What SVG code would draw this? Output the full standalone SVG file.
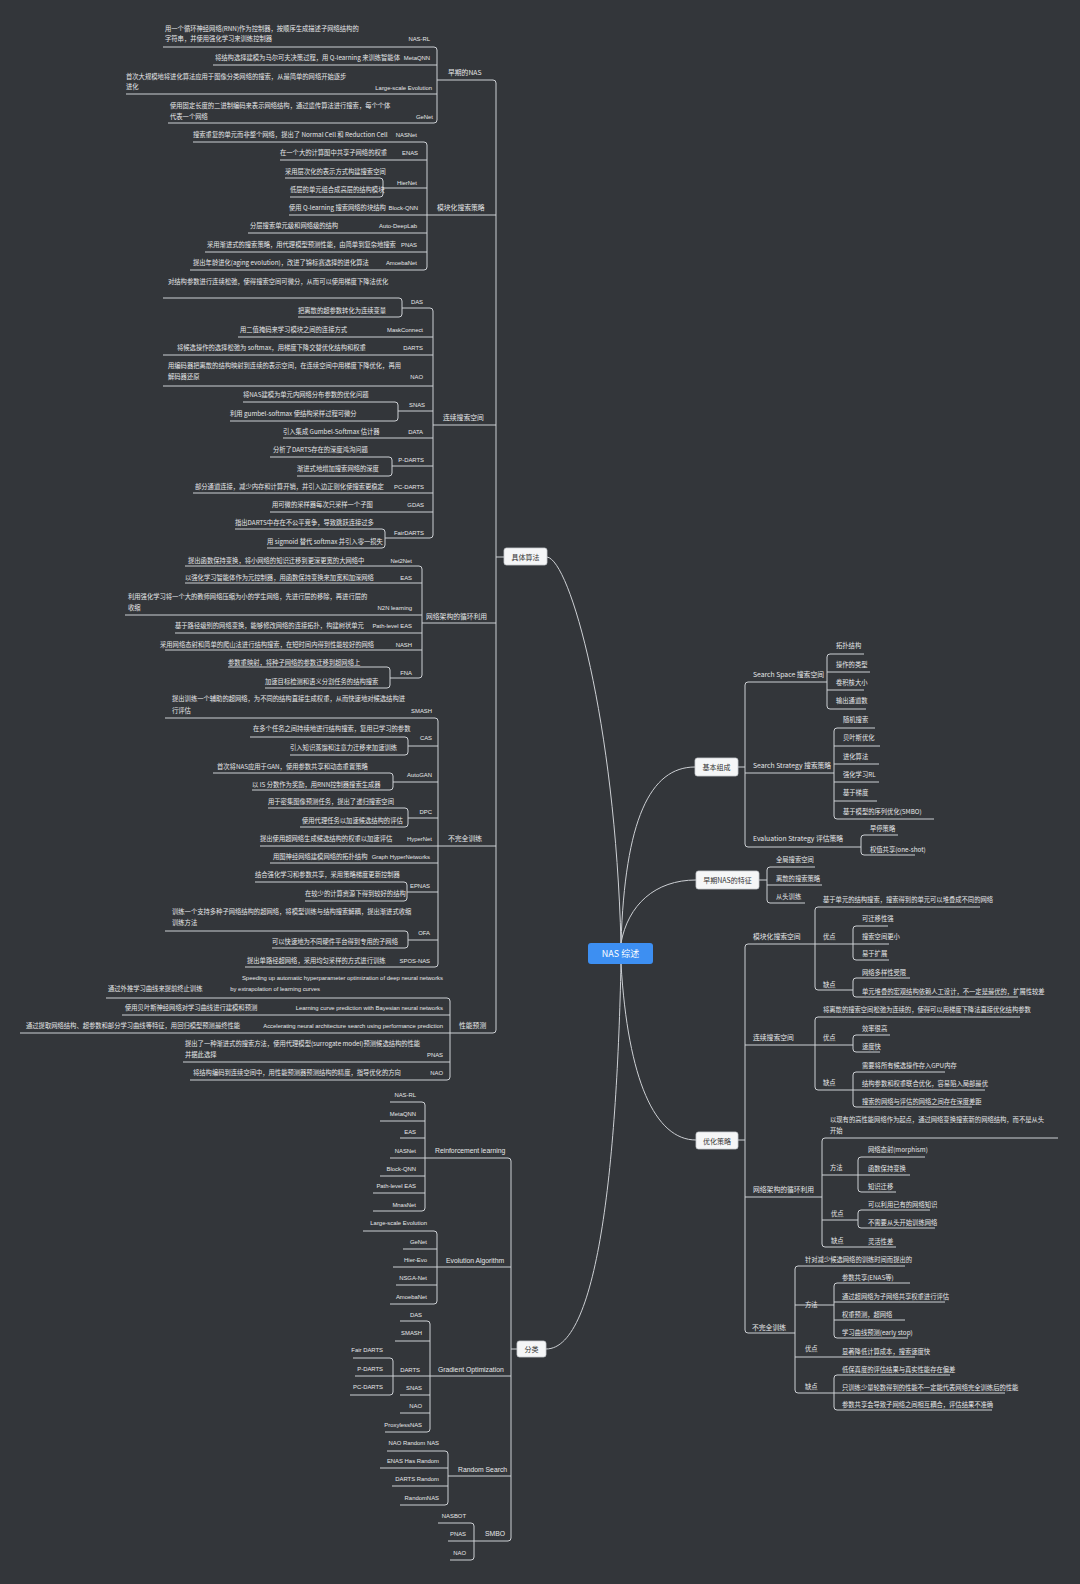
<svg xmlns="http://www.w3.org/2000/svg" width="1080" height="1584" viewBox="0 0 1080 1584">
<style>
text{font-family:"Noto Sans CJK SC","Liberation Sans",sans-serif;font-size:6.3px;fill:#e6e7e9}
.e{text-anchor:end}
.en{font-family:"Liberation Sans","Noto Sans CJK SC",sans-serif;font-size:5.9px}
.p{font-size:6.8px}
.box{fill:#f5f6f7;stroke:#c8cbcf;stroke-width:0.8}
.bt{font-size:7px;fill:#333;text-anchor:middle}
.c path{fill:none;stroke:#cdd0d4;stroke-width:1}
</style>
<rect width="1080" height="1584" fill="#33363a"/>
<g class="c" id="connectors">
<path d="M621,943 C615,720 570,560 547,557"/>
<path d="M621,943 C625,820 650,767 695,767"/>
<path d="M621,943 C628,905 655,880 696,880"/>
<path d="M621,964 C628,1080 655,1140 696,1140"/>
<path d="M621,964 C617,1150 600,1349 546,1349"/>
<path d="M437,80 H493 Q496,80 496,83 V1030 Q496,1033 493,1033"/>
<path d="M496,557 H504"/>
<path d="M163,47 H434 Q437,47 437,50 V120 Q437,123 434,123 H168 M213,65 H437 M126,94 H437"/>
<path d="M193,142 H424 Q427,142 427,145 V267 Q427,270 424,270 H190 M280,160 H427 M383,188 H427 M289,215 H496 M248,233 H427 M205,252 H427"/>
<path d="M285,178 H380 Q383,178 383,181 V194 Q383,197 380,197 H290"/>
<path d="M402,308 H430 Q433,308 433,311 V535 Q433,538 430,538 H385 M238,337 H433 M163,355 H433 M163,386 H433 M398,411 H433 M283,438 H433 M392,466 H433 M193,493 H433 M270,512 H433 M433,425 H496"/>
<path d="M163,298 H399 Q402,298 402,301 V314 Q402,317 399,317 H298"/>
<path d="M243,402 H395 Q398,402 398,405 V418 Q398,421 395,421 H230"/>
<path d="M270,457 H389 Q392,457 392,460 V473 Q392,476 389,476 H297"/>
<path d="M235,529 H382 Q385,529 385,532 V545 Q385,548 382,548 H267"/>
<path d="M185,566 H419 Q422,566 422,569 V675 Q422,678 419,678 H390 M185,583 H422 M125,615 H422 M175,633 H422 M165,650 H422 M422,623 H496"/>
<path d="M228,667 H387 Q390,667 390,670 V685 Q390,688 387,688 H265"/>
<path d="M165,718 H435 Q438,718 438,721 V964 Q438,967 435,967 H245 M408,746 H438 M393,782 H438 M408,818 H438 M260,846 H496 M270,863 H438 M407,892 H438 M408,940 H438"/>
<path d="M250,737 H405 Q408,737 408,740 V752 Q408,755 405,755 H290"/>
<path d="M213,773 H390 Q393,773 393,776 V787 Q393,790 390,790 H252"/>
<path d="M268,808 H405 Q408,808 408,811 V824 Q408,827 405,827 H300"/>
<path d="M255,882 H404 Q407,882 407,885 V898 Q407,901 404,901 H305"/>
<path d="M165,931 H405 Q408,931 408,934 V945 Q408,948 405,948 H272"/>
<path d="M106,998 H447 Q450,998 450,1001 V1077 Q450,1080 447,1080 H190 M122,1015 H450 M20,1033 H493 M183,1062 H450"/>
<path d="M511,1349 H517"/>
<path d="M390,1158 H508 Q511,1158 511,1161 V1538 Q511,1541 508,1541 H448"/>
<path d="M390,1102 H422 Q425,1102 425,1105 V1208 Q425,1211 422,1211 H373 M380,1121 H425 M400,1138 H425 M380,1176 H425 M373,1193 H425"/>
<path d="M363,1231 H434 Q437,1231 437,1234 V1301 Q437,1304 434,1304 H390 M403,1249 H437 M393,1267 H511 M396,1285 H437"/>
<path d="M400,1321 H427 Q430,1321 430,1324 V1429 Q430,1432 427,1432 H385 M395,1341 H430 M393,1376 H511 M400,1395 H430 M400,1413 H430"/>
<path d="M353,1358 H390 Q393,1358 393,1361 V1392 Q393,1395 390,1395 H350 M355,1376 H393"/>
<path d="M387,1451 H445 Q448,1451 448,1454 V1502 Q448,1505 445,1505 H400 M380,1468 H448 M392,1486 H448 M448,1476 H511"/>
<path d="M438,1523 H471 Q474,1523 474,1526 V1557 Q474,1560 471,1560 H450"/>
<path d="M738,767 H745"/>
<path d="M827,682 H748 Q745,682 745,685 V844 Q745,847 748,847 H861 M745,773 H834"/>
<path d="M864,654 H830 Q827,654 827,657 V706 Q827,709 830,709 H866 M827,672 H870 M827,690 H864"/>
<path d="M875,728 H837 Q834,728 834,731 V816 Q834,819 837,819 H934 M834,746 H880 M834,764 H879 M834,782 H879 M834,801 H877"/>
<path d="M898,835 H864 Q861,835 861,838 V852 Q861,855 864,855 H915"/>
<path d="M759,880 H767"/>
<path d="M815,867 H770 Q767,867 767,870 V900 Q767,903 770,903 H805 M767,885 H822"/>
<path d="M738,1140 H745"/>
<path d="M815,944 H748 Q745,944 745,947 V1330 Q745,1333 748,1333 H795"/>
<path d="M980,907 H818 Q815,907 815,910 V987 Q815,990 818,990 H853 M815,944 H853"/>
<path d="M888,926 H856 Q853,926 853,929 V957 Q853,960 856,960 H889 M853,944 H889"/>
<path d="M910,978 H856 Q853,978 853,981 V994 Q853,997 856,997 H1018"/>
<path d="M1020,1017 H818 Q815,1017 815,1020 V1087 Q815,1090 818,1090 H853 M745,1045 H853"/>
<path d="M890,1035 H856 Q853,1035 853,1038 V1049 Q853,1052 856,1052 H880"/>
<path d="M945,1072 H856 Q853,1072 853,1075 V1104 Q853,1107 856,1107 H972 M853,1090 H985"/>
<path d="M745,1197 H822 M1058,1138 H825 Q822,1138 822,1141 V1244 Q822,1247 825,1247 H896 M822,1175 H858 M822,1220 H858"/>
<path d="M925,1157 H861 Q858,1157 858,1160 V1189 Q858,1192 861,1192 H896 M858,1175 H910"/>
<path d="M930,1210 H861 Q858,1210 858,1213 V1225 Q858,1228 861,1228 H935"/>
<path d="M905,1266 H798 Q795,1266 795,1269 V1390 Q795,1393 798,1393 H834 M795,1357 H915 M795,1305 H834"/>
<path d="M910,1283 H837 Q834,1283 834,1286 V1335 Q834,1338 837,1338 H908 M834,1302 H945 M834,1320 H905"/>
<path d="M950,1375 H837 Q834,1375 834,1378 V1407 Q834,1410 837,1410 H992 M834,1393 H1005"/>
</g>

<g id="root">
<rect x="588" y="943" width="65" height="21" rx="3" fill="#3d8ff2"/>
<text x="620.5" y="957" style="font-size:9px;fill:#fff;text-anchor:middle">NAS 综述</text>
</g>

<g id="n-algos">
<rect class="box" x="504" y="548" width="43" height="17" rx="2.5"/>
<text class="bt" x="525.5" y="559.5">具体算法</text>
</g>

<g id="n-early-nas">
<text class="p" x="448" y="75">早期的NAS</text>
<text x="165" y="31">用一个循环神经网络(RNN)作为控制器，按顺序生成描述子网络结构的</text>
<text x="165" y="41">字符串，并使用强化学习来训练控制器</text>
<text class="e en" x="430" y="41">NAS-RL</text>
<text x="215" y="60">将结构选择建模为马尔可夫决策过程，用 Q-learning 来训练智能体</text>
<text class="e en" x="430" y="60">MetaQNN</text>
<text x="126" y="79">首次大规模地将进化算法应用于图像分类网络的搜索，从最简单的网络开始逐步</text>
<text x="126" y="89">进化</text>
<text class="e en" x="432" y="90">Large-scale Evolution</text>
<text x="170" y="108">使用固定长度的二进制编码来表示网络结构，通过遗传算法进行搜索，每个个体</text>
<text x="170" y="119">代表一个网络</text>
<text class="e en" x="433" y="119">GeNet</text>
</g>

<g id="n-modular">
<text class="p" x="437" y="210">模块化搜索策略</text>
<text x="193" y="137">搜索重复的单元而非整个网络，提出了 Normal Cell 和 Reduction Cell</text>
<text class="e en" x="417" y="137">NASNet</text>
<text x="280" y="155">在一个大的计算图中共享子网络的权重</text>
<text class="e en" x="418" y="155">ENAS</text>
<text x="285" y="174">采用层次化的表示方式构建搜索空间</text>
<text x="290" y="192">低层的单元组合成高层的结构模块</text>
<text class="e en" x="417" y="185">HierNet</text>
<text x="289" y="210">使用 Q-learning 搜索网络的块结构</text>
<text class="e en" x="418" y="210">Block-QNN</text>
<text x="250" y="228">分层搜索单元级和网络级的结构</text>
<text class="e en" x="417" y="228">Auto-DeepLab</text>
<text x="207" y="247">采用渐进式的搜索策略，用代理模型预测性能，由简单到复杂地搜索</text>
<text class="e en" x="417" y="247">PNAS</text>
<text x="193" y="265">提出年龄进化(aging evolution)，改进了锦标赛选择的进化算法</text>
<text class="e en" x="417" y="265">AmoebaNet</text>
</g>

<g id="n-continuous">
<text class="p" x="443" y="420">连续搜索空间</text>
<text x="168" y="284">对结构参数进行连续松弛，使得搜索空间可微分，从而可以使用梯度下降法优化</text>
<text x="298" y="313">把离散的超参数转化为连续变量</text>
<text class="e en" x="423" y="304">DAS</text>
<text x="240" y="332">用二值掩码来学习模块之间的连接方式</text>
<text class="e en" x="423" y="332">MaskConnect</text>
<text x="177" y="350">将候选操作的选择松弛为 softmax，用梯度下降交替优化结构和权重</text>
<text class="e en" x="423" y="350">DARTS</text>
<text x="168" y="368">用编码器把离散的结构映射到连续的表示空间，在连续空间中用梯度下降优化，再用</text>
<text x="168" y="379">解码器还原</text>
<text class="e en" x="423" y="379">NAO</text>
<text x="243" y="397">将NAS建模为单元内网络分布参数的优化问题</text>
<text x="230" y="416">利用 gumbel-softmax 使结构采样过程可微分</text>
<text class="e en" x="425" y="407">SNAS</text>
<text x="283" y="434">引入集成 Gumbel-Softmax 估计器</text>
<text class="e en" x="423" y="434">DATA</text>
<text x="273" y="452">分析了DARTS存在的深度鸿沟问题</text>
<text x="297" y="471">渐进式地增加搜索网络的深度</text>
<text class="e en" x="424" y="462">P-DARTS</text>
<text x="195" y="489">部分通道连接，减少内存和计算开销，并引入边正则化使搜索更稳定</text>
<text class="e en" x="424" y="489">PC-DARTS</text>
<text x="272" y="507">用可微的采样器每次只采样一个子图</text>
<text class="e en" x="424" y="507">GDAS</text>
<text x="235" y="525">指出DARTS中存在不公平竞争，导致跳跃连接过多</text>
<text x="267" y="544">用 sigmoid 替代 softmax 并引入零一损失</text>
<text class="e en" x="424" y="535">FairDARTS</text>
</g>

<g id="n-recycle">
<text class="p" x="426" y="619">网络架构的循环利用</text>
<text x="188" y="563">提出函数保持变换，将小网络的知识迁移到更深更宽的大网络中</text>
<text class="e en" x="412" y="563">Net2Net</text>
<text x="185" y="580">以强化学习智能体作为元控制器，用函数保持变换来加宽和加深网络</text>
<text class="e en" x="412" y="580">EAS</text>
<text x="128" y="599">利用强化学习将一个大的教师网络压缩为小的学生网络，先进行层的移除，再进行层的</text>
<text x="128" y="610">收缩</text>
<text class="e en" x="412" y="610">N2N learning</text>
<text x="175" y="628">基于路径级别的网络变换，能够修改网络的连接拓扑，构建树状单元</text>
<text class="e en" x="412" y="628">Path-level EAS</text>
<text x="160" y="647">采用网络态射和简单的爬山法进行结构搜索，在短时间内得到性能较好的网络</text>
<text class="e en" x="412" y="647">NASH</text>
<text x="228" y="665">参数重映射，将种子网络的参数迁移到超网络上</text>
<text x="265" y="684">加速目标检测和语义分割任务的结构搜索</text>
<text class="e en" x="412" y="675">FNA</text>
</g>

<g id="n-incomplete">
<text class="p" x="448" y="841">不完全训练</text>
<text x="172" y="701">提出训练一个辅助的超网络，为不同的结构直接生成权重，从而快速地对候选结构进</text>
<text x="172" y="713">行评估</text>
<text class="e en" x="432" y="713">SMASH</text>
<text x="253" y="731">在多个任务之间持续地进行结构搜索，复用已学习的参数</text>
<text x="290" y="750">引入知识蒸馏和注意力迁移来加速训练</text>
<text class="e en" x="432" y="740">CAS</text>
<text x="217" y="769">首次将NAS应用于GAN，使用参数共享和动态重置策略</text>
<text x="252" y="787">以 IS 分数作为奖励，用RNN控制器搜索生成器</text>
<text class="e en" x="432" y="777">AutoGAN</text>
<text x="268" y="804">用于密集图像预测任务，提出了递归搜索空间</text>
<text x="302" y="823">使用代理任务以加速候选结构的评估</text>
<text class="e en" x="432" y="814">DPC</text>
<text x="260" y="841">提出使用超网络生成候选结构的权重以加速评估</text>
<text class="e en" x="432" y="841">HyperNet</text>
<text x="273" y="859">用图神经网络建模网络的拓扑结构</text>
<text class="e en" x="430" y="859">Graph HyperNetworks</text>
<text x="255" y="877">结合强化学习和参数共享，采用策略梯度更新控制器</text>
<text x="305" y="896">在较少的计算资源下得到较好的结构</text>
<text class="e en" x="430" y="888">EPNAS</text>
<text x="172" y="914">训练一个支持多种子网络结构的超网络，将模型训练与结构搜索解耦，提出渐进式收缩</text>
<text x="172" y="925">训练方法</text>
<text x="272" y="944">可以快速地为不同硬件平台得到专用的子网络</text>
<text class="e en" x="430" y="935">OFA</text>
<text x="247" y="963">提出单路径超网络，采用均匀采样的方式进行训练</text>
<text class="e en" x="430" y="963">SPOS-NAS</text>
</g>

<g id="n-prediction">
<text class="p" x="459" y="1028">性能预测</text>
<text x="108" y="991">通过外推学习曲线来提前终止训练</text>
<text class="e en" x="443" y="980">Speeding up automatic hyperparameter optimization of deep neural networks</text>
<text class="e en" x="320" y="991">by extrapolation of learning curves</text>
<text x="125" y="1010">使用贝叶斯神经网络对学习曲线进行建模和预测</text>
<text class="e en" x="443" y="1010">Learning curve prediction with Bayesian neural networks</text>
<text x="26" y="1028">通过提取网络结构、超参数和部分学习曲线等特征，用回归模型预测最终性能</text>
<text class="e en" x="443" y="1028">Accelerating neural architecture search using performance prediction</text>
<text x="185" y="1046">提出了一种渐进式的搜索方法，使用代理模型(surrogate model)预测候选结构的性能</text>
<text x="185" y="1057">并据此选择</text>
<text class="e en" x="443" y="1057">PNAS</text>
<text x="193" y="1075">将结构编码到连续空间中，用性能预测器预测结构的精度，指导优化的方向</text>
<text class="e en" x="443" y="1075">NAO</text>
</g>

<g id="n-classify">
<rect class="box" x="517" y="1341" width="29" height="16" rx="2.5"/>
<text class="bt" x="531.5" y="1352">分类</text>
</g>
<g id="n-rl">
<text class="en p" x="435" y="1153">Reinforcement learning</text>
<text class="e en" x="416" y="1097">NAS-RL</text>
<text class="e en" x="416" y="1116">MetaQNN</text>
<text class="e en" x="416" y="1134">EAS</text>
<text class="e en" x="416" y="1153">NASNet</text>
<text class="e en" x="416" y="1171">Block-QNN</text>
<text class="e en" x="416" y="1188">Path-level EAS</text>
<text class="e en" x="416" y="1207">MnasNet</text>
</g>
<g id="n-ea">
<text class="en p" x="446" y="1263">Evolution Algorithm</text>
<text class="e en" x="427" y="1225">Large-scale Evolution</text>
<text class="e en" x="427" y="1244">GeNet</text>
<text class="e en" x="427" y="1262">Hier-Evo</text>
<text class="e en" x="427" y="1280">NSGA-Net</text>
<text class="e en" x="427" y="1299">AmoebaNet</text>
</g>
<g id="n-grad">
<text class="en p" x="438" y="1372">Gradient Optimization</text>
<text class="e en" x="422" y="1317">DAS</text>
<text class="e en" x="422" y="1335">SMASH</text>
<text class="e en" x="420" y="1372">DARTS</text>
<text class="e en" x="383" y="1352">Fair DARTS</text>
<text class="e en" x="383" y="1371">P-DARTS</text>
<text class="e en" x="383" y="1389">PC-DARTS</text>
<text class="e en" x="422" y="1390">SNAS</text>
<text class="e en" x="422" y="1408">NAO</text>
<text class="e en" x="422" y="1427">ProxylessNAS</text>
</g>
<g id="n-random">
<text class="en p" x="458" y="1472">Random Search</text>
<text class="e en" x="439" y="1445">NAO Random NAS</text>
<text class="e en" x="439" y="1463">ENAS Has Random</text>
<text class="e en" x="439" y="1481">DARTS Random</text>
<text class="e en" x="439" y="1500">RandomNAS</text>
</g>
<g id="n-smbo">
<text class="en p" x="485" y="1536">SMBO</text>
<text class="e en" x="466" y="1518">NASBOT</text>
<text class="e en" x="466" y="1536">PNAS</text>
<text class="e en" x="466" y="1555">NAO</text>
</g>

<g id="n-components">
<rect class="box" x="695" y="758" width="43" height="18" rx="2.5"/>
<text class="bt" x="716.5" y="770">基本组成</text>
<text class="p" x="753" y="677">Search Space 搜索空间</text>
<text x="836" y="648">拓扑结构</text>
<text x="836" y="667">操作的类型</text>
<text x="836" y="685">卷积核大小</text>
<text x="836" y="703">输出通道数</text>
<text class="p" x="753" y="768">Search Strategy 搜索策略</text>
<text x="843" y="722">随机搜索</text>
<text x="843" y="740">贝叶斯优化</text>
<text x="843" y="759">进化算法</text>
<text x="843" y="777">强化学习RL</text>
<text x="843" y="795">基于梯度</text>
<text x="843" y="814">基于模型的序列优化(SMBO)</text>
<text class="p" x="753" y="841">Evaluation Strategy 评估策略</text>
<text x="870" y="831">早停策略</text>
<text x="870" y="852">权值共享(one-shot)</text>
</g>

<g id="n-early-features">
<rect class="box" x="696" y="871" width="63" height="18" rx="2.5"/>
<text class="bt" x="727.5" y="883">早期NAS的特征</text>
<text x="776" y="862">全局搜索空间</text>
<text x="776" y="881">离散的搜索策略</text>
<text x="776" y="899">从头训练</text>
</g>

<g id="n-optimization">
<rect class="box" x="696" y="1132" width="42" height="17" rx="2.5"/>
<text class="bt" x="717" y="1143.5">优化策略</text>
<text class="p" x="753" y="939">模块化搜索空间</text>
<text x="823" y="902">基于单元的结构搜索，搜索得到的单元可以堆叠成不同的网络</text>
<text x="823" y="939">优点</text>
<text x="862" y="921">可迁移性强</text>
<text x="862" y="939">搜索空间更小</text>
<text x="862" y="956">易于扩展</text>
<text x="823" y="987">缺点</text>
<text x="862" y="975">网络多样性受限</text>
<text x="862" y="994">单元堆叠的宏观结构依赖人工设计，不一定是最优的，扩展性较差</text>
<text class="p" x="753" y="1040">连续搜索空间</text>
<text x="823" y="1012">将离散的搜索空间松弛为连续的，使得可以用梯度下降法直接优化结构参数</text>
<text x="823" y="1040">优点</text>
<text x="862" y="1031">效率很高</text>
<text x="862" y="1049">速度快</text>
<text x="823" y="1085">缺点</text>
<text x="862" y="1068">需要将所有候选操作存入GPU内存</text>
<text x="862" y="1086">结构参数和权重联合优化，容易陷入局部最优</text>
<text x="862" y="1104">搜索的网络与评估的网络之间存在深度差距</text>
<text class="p" x="753" y="1192">网络架构的循环利用</text>
<text x="830" y="1122">以现有的高性能网络作为起点，通过网络变换搜索新的网络结构，而不是从头</text>
<text x="830" y="1133">开始</text>
<text x="830" y="1170">方法</text>
<text x="868" y="1152">网络态射(morphism)</text>
<text x="868" y="1171">函数保持变换</text>
<text x="868" y="1189">知识迁移</text>
<text x="831" y="1216">优点</text>
<text x="868" y="1207">可以利用已有的网络知识</text>
<text x="868" y="1225">不需要从头开始训练网络</text>
<text x="831" y="1243">缺点</text>
<text x="868" y="1244">灵活性差</text>
<text class="p" x="752" y="1330">不完全训练</text>
<text x="805" y="1262">针对减少候选网络的训练时间而提出的</text>
<text x="805" y="1307">方法</text>
<text x="842" y="1280">参数共享(ENAS等)</text>
<text x="842" y="1299">通过超网络为子网络共享权重进行评估</text>
<text x="842" y="1317">权重预测，超网络</text>
<text x="842" y="1335">学习曲线预测(early stop)</text>
<text x="805" y="1351">优点</text>
<text x="842" y="1354">显著降低计算成本，搜索速度快</text>
<text x="805" y="1389">缺点</text>
<text x="842" y="1372">低保真度的评估结果与真实性能存在偏差</text>
<text x="842" y="1390">只训练少量轮数得到的性能不一定能代表网络完全训练后的性能</text>
<text x="842" y="1407">参数共享会导致子网络之间相互耦合，评估结果不准确</text>
</g>
</svg>
